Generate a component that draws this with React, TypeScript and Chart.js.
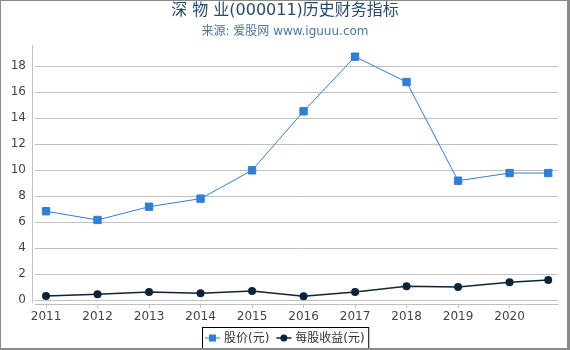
import { useEffect, useRef } from "react";
import { Chart, registerables } from "chart.js";

Chart.register(...registerables);

const TITLE = "深 物 业(000011)历史财务指标";
const SUBTITLE = "来源: 爱股网 www.iguuu.com";
const seriesNames = ["股价(元)", "每股收益(元)"];
const years = [2011, 2012, 2013, 2014, 2015, 2016, 2017, 2018, 2019, 2020, 2020.75];
const priceValues = [6.85, 6.18, 7.2, 7.82, 10.0, 14.54, 18.74, 16.79, 9.2, 9.79, 9.79];
const epsValues = [0.33, 0.46, 0.64, 0.54, 0.72, 0.31, 0.64, 1.08, 1.02, 1.38, 1.56];
const xTickValues = [2011, 2012, 2013, 2014, 2015, 2016, 2017, 2018, 2019, 2020];
const yTickValues = [0, 2, 4, 6, 8, 10, 12, 14, 16, 18];

const PRICE_COLOR = "#2f7ed8";
const EPS_COLOR = "#0d233a";
const GRID = "#c0c0c0";
const FONT = '"DejaVu Sans", "Noto Sans CJK SC", sans-serif';

export default function App() {
  const ref = useRef<HTMLCanvasElement>(null);

  useEffect(() => {
    document.body.style.margin = "0";
    const canvas = ref.current;
    if (!canvas) return;

    const decor = {
      id: "decor",
      afterDraw(chart: any) {
        const ctx = chart.ctx as CanvasRenderingContext2D;
        const area = chart.chartArea;
        ctx.save();
        // y axis line
        ctx.strokeStyle = GRID;
        ctx.lineWidth = 1;
        ctx.beginPath();
        ctx.moveTo(32.5, area.top);
        ctx.lineTo(32.5, area.bottom - 1);
        ctx.stroke();

        // titles
        ctx.textAlign = "center";
        ctx.textBaseline = "middle";
        ctx.fillStyle = "#274b6d";
        ctx.font = `16px ${FONT}`;
        ctx.fillText(TITLE, chart.width / 2, 11);
        ctx.fillStyle = "#4d759e";
        ctx.font = `12px ${FONT}`;
        ctx.fillText(SUBTITLE, chart.width / 2, 31.5);

        // legend
        ctx.font = `12px ${FONT}`;
        ctx.textAlign = "left";
        const ly = 338;
        let x = 205;
        const colors = [PRICE_COLOR, EPS_COLOR];
        seriesNames.forEach((name, i) => {
          ctx.strokeStyle = colors[i];
          ctx.lineWidth = i === 0 ? 1 : 1.5;
          ctx.beginPath();
          ctx.moveTo(x, ly);
          ctx.lineTo(x + 15, ly);
          ctx.stroke();
          ctx.fillStyle = colors[i];
          if (i === 0) {
            ctx.fillRect(x + 4, ly - 3.5, 7, 7);
          } else {
            ctx.beginPath();
            ctx.arc(x + 7.5, ly, 3.5, 0, Math.PI * 2);
            ctx.fill();
          }
          ctx.fillStyle = "#333333";
          ctx.fillText(name, x + 19, ly + 0.5);
          x += 19 + ctx.measureText(name).width + 7;
        });
        const boxRight = x - 7 + 4;
        ctx.strokeStyle = "#000000";
        ctx.lineWidth = 1;
        ctx.strokeRect(202.5, 327.5, boxRight - 202.5, 21);

        // frame
        ctx.fillStyle = "#8a8a8a";
        ctx.fillRect(0, 0, chart.width, 1);
        ctx.fillRect(0, 0, 1, chart.height);
        ctx.fillRect(chart.width - 3, 0, 3, chart.height);
        ctx.fillRect(0, chart.height - 2, chart.width, 2);
        ctx.restore();
      },
    };

    const chart = new Chart(canvas, {
      type: "line",
      data: {
        datasets: [
          {
            label: seriesNames[0],
            data: years.map((x, i) => ({ x, y: priceValues[i] })),
            borderColor: PRICE_COLOR,
            backgroundColor: PRICE_COLOR,
            borderWidth: 1,
            pointStyle: "rect",
            pointRadius: 5.2,
            pointBorderWidth: 1,
            pointBorderColor: PRICE_COLOR,
            pointBackgroundColor: PRICE_COLOR,
            tension: 0,
          },
          {
            label: seriesNames[1],
            data: years.map((x, i) => ({ x, y: epsValues[i] })),
            borderColor: EPS_COLOR,
            backgroundColor: EPS_COLOR,
            borderWidth: 1.5,
            pointStyle: "circle",
            pointRadius: 4,
            pointBorderWidth: 0,
            pointBackgroundColor: EPS_COLOR,
            tension: 0,
          },
        ],
      },
      options: {
        responsive: false,
        animation: false,
        devicePixelRatio: 1,
        layout: { padding: { top: 45, left: 0, right: 12, bottom: 23 } },
        plugins: {
          legend: { display: false },
          title: { display: false },
          tooltip: { enabled: false },
        },
        scales: {
          x: {
            type: "linear",
            min: 2010.786,
            max: 2020.94,
            afterBuildTicks: (scale: any) => {
              scale.ticks = xTickValues.map((v) => ({ value: v }));
            },
            afterFit: (scale: any) => {
              scale.height = 23;
            },
            grid: {
              display: true,
              drawOnChartArea: false,
              drawTicks: true,
              tickLength: 4,
              color: GRID,
            },
            border: { display: true, color: GRID, width: 1 },
            ticks: {
              padding: 2,
              color: "#444444",
              font: { family: FONT, size: 12 },
              maxRotation: 0,
              autoSkip: false,
              callback: (v: any) => String(v),
            },
          },
          y: {
            type: "linear",
            min: -0.285,
            max: 19.64,
            afterBuildTicks: (scale: any) => {
              scale.ticks = yTickValues.map((v) => ({ value: v }));
            },
            afterFit: (scale: any) => {
              scale.width = 35;
            },
            grid: { color: GRID, drawTicks: false, lineWidth: 1 },
            border: { display: false },
            ticks: {
              padding: 9,
              color: "#444444",
              font: { family: FONT, size: 12 },
              callback: (v: any) => String(v),
            },
          },
        },
      },
      plugins: [decor],
    } as any);

    return () => chart.destroy();
  }, []);

  return (
    <div style={{ width: 570, height: 350 }}>
      <canvas ref={ref} width={570} height={350} style={{ display: "block" }} />
    </div>
  );
}
